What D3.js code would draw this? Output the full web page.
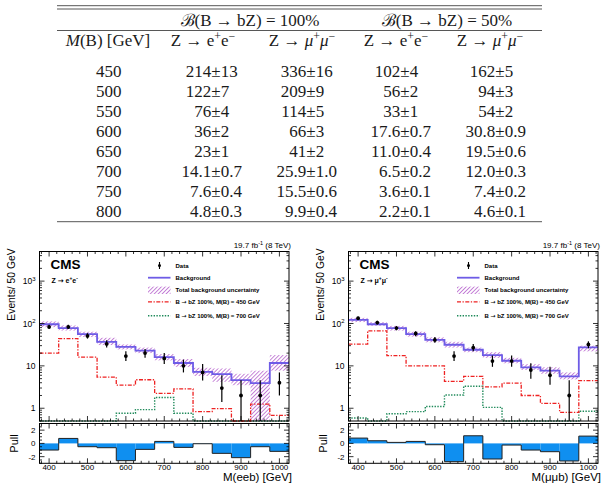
<!DOCTYPE html>
<html><head><meta charset="utf-8">
<script src="https://cdn.jsdelivr.net/npm/d3@7"></script>
<style>body{margin:0;background:#fff}svg{display:block}</style>
</head><body>
<svg id="c" width="609" height="485"></svg>
<script>
// ---------------- Table data ----------------
const tableMass = ["450","500","550","600","650","700","750","800"];
const ee100Val = ["214","122","76","36","23","14.1","7.6","4.8"];
const ee100Err = ["13","7","4","2","1","0.7","0.4","0.3"];
const mm100Val = ["336","209","114","66","41","25.9","15.5","9.9"];
const mm100Err = ["16","9","5","3","2","1.0","0.6","0.4"];
const ee50Val  = ["102","56","33","17.6","11.0","6.5","3.6","2.2"];
const ee50Err  = ["4","2","1","0.7","0.4","0.2","0.1","0.1"];
const mm50Val  = ["162","94","54","30.8","19.5","12.0","7.4","4.6"];
const mm50Err  = ["5","3","2","0.9","0.6","0.3","0.2","0.1"];

// ---------------- Histogram data ----------------
const binCenters = [400,450,500,550,600,650,700,750,800,850,900,950,1000];
const xTicks = [400,500,600,700,800,900,1000];
const yTicks = [1,10,100,1000];
const pullTicks = [-2,0,2];

const eeBkg    = [96, 78, 56, 37, 28, 23, 16, 11.7, 7.2, 6.4, 4.6, 3.9, 11.7];
const eeBkgLo  = [82, 68, 48, 31, 24.5, 20, 13.5, 9.5, 5.8, 4.2, 3.5, 0.3, 7.7];
const eeBkgHi  = [112, 90, 64, 46, 32, 27, 19, 14.5, 9, 8.7, 6.5, 7.7, 18];
const eeData   = [83, 83, 51, 33, 17, 20, 15, 10, 7, 3, 2, 2, 4];
const eeDataLo = [74, 74, 44, 27, 13, 15.5, 11, 7, 4.5, 1.4, 0.4, 0.4, 2];
const eeDataHi = [93, 93, 59, 40, 22, 25, 20, 14, 11, 6, 4.6, 4.6, 7];
const eeSig450 = [20, 44, 16, 5.4, 3.5, 4.7, 2.25, 2.85, 0.83, 0.98, 0.4, 1.25, 0.68];
const eeSig700 = [0.4, 0.4, 0.4, 0.4, 0.76, 0.93, 1.8, 0.76, 0.4, 0.4, 0.4, 0.4, 0.4];
const eePull   = [-1.0, 0.75, -0.5, -0.65, -2.6, -0.9, 0.3, -0.6, -0.05, -1.5, -2.15, -0.5, -1.2];

const mmBkg    = [122, 96, 78, 56, 41, 31.5, 24, 18, 13.2, 9.2, 7.7, 5.65, 27.3];
const mmBkgLo  = [108, 88, 68, 49, 36, 27, 21, 15.5, 11.5, 8, 6.5, 4.8, 22];
const mmBkgHi  = [136, 108, 88, 64, 47, 37, 27, 21, 15.5, 11, 9.3, 7, 30];
const mmData   = [133, 105, 78, 58, 41, 17, 27, 13, 13, 8, 6, 2, 32];
const mmDataLo = [122, 95, 69, 50, 35, 13, 22, 9.5, 9.5, 5, 3.6, 0.4, 26];
const mmDataHi = [145, 116, 87, 66, 48, 22, 33, 17.5, 17.5, 11.5, 9.5, 4.6, 38];
const mmSig450 = [32.6, 67, 17.4, 10, 10, 4.3, 5.65, 3.2, 3.9, 2, 1.3, 0.8, 4.5];
const mmSig700 = [0.59, 0.45, 0.74, 0.83, 1.1, 2.05, 3.3, 1.05, 0.4, 0.4, 0.4, 0.4, 0.85];
const mmPull   = [0.8, 0.4, 0.15, 0.3, -0.2, -2.75, 1.15, -2.35, -0.25, -1.0, -1.25, -2.65, 1.1];

const legendLabels = ["Data","Background","Total background uncertainty",
  "B \u2192 bZ 100%, M(B) = 450 GeV","B \u2192 bZ 100%, M(B) = 700 GeV"];

const svg = d3.select("#c");
const SANS = "'Liberation Sans', Arial, sans-serif";
const SERIF = "'Liberation Serif', 'Times New Roman', serif";

// rich text helper: segs = [[text, {sup, italic, font}], ...]
function rich(sel, x, y, segs, fs, attrs) {
  const t = sel.append("text").attr("x", x).attr("y", y).attr("font-size", fs);
  for (const k in attrs) t.attr(k, attrs[k]);
  let shifted = 0;
  segs.forEach(([txt, o]) => {
    o = o || {};
    const sp = t.append("tspan").text(txt);
    let want = o.sup ? -0.38 * fs : 0;
    if (want !== shifted) { sp.attr("dy", want - shifted); shifted = want; }
    if (o.sup) sp.attr("font-size", fs * 0.7);
    if (o.italic) sp.attr("font-style", "italic");
    if (o.font) sp.attr("font-family", o.font);
  });
  return t;
}

// ---------------- Table ----------------
const tg = svg.append("g").attr("font-family", SERIF).attr("fill", "#1a1a1a");
const TL = 57, TR = 542;
[[5.7, TL, TR],[9, TL, TR],[30.5, TL, TR],[221.7, TL, TR]].forEach(([y,a,b]) =>
  tg.append("line").attr("x1", a).attr("x2", b).attr("y1", y).attr("y2", y)
    .attr("stroke", "#444").attr("stroke-width", 0.9));
const FS = 17;
const calB = ["\u212C", {font: "'DejaVu Serif', serif", italic: false}];
rich(tg, 250, 26, [calB, ["(B \u2192 bZ) = 100%"]], FS, {"text-anchor":"middle"});
rich(tg, 447, 26, [calB, ["(B \u2192 bZ) = 50%"]], FS, {"text-anchor":"middle"});
rich(tg, 108, 46, [["M",{italic:true}],["(B) [GeV]"]], FS, {"text-anchor":"middle"});
const hdrX = [203, 302, 396, 490];
const eeHdr = [["Z \u2192 e"],["+",{sup:true}],["e"],["\u2212",{sup:true}]];
const mmHdr = [["Z \u2192 "],["\u03BC",{italic:true}],["+",{sup:true}],["\u03BC",{italic:true}],["\u2212",{sup:true}]];
[eeHdr, mmHdr, eeHdr, mmHdr].forEach((h, i) => rich(tg, hdrX[i], 46, h, FS, {"text-anchor":"middle"}));
const pmX = [216, 311, 405, 500];
const cols = [[ee100Val, ee100Err],[mm100Val, mm100Err],[ee50Val, ee50Err],[mm50Val, mm50Err]];
tableMass.forEach((m, r) => {
  const y = 77 + 20 * r;
  tg.append("text").attr("x", 108.7).attr("y", y).attr("font-size", FS)
    .attr("text-anchor", "middle").text(m);
  cols.forEach(([vals, errs], c) => {
    const px = pmX[c];
    tg.append("text").attr("x", px - 4.8).attr("y", y).attr("font-size", FS)
      .attr("text-anchor", "end").text(vals[r]);
    tg.append("text").attr("x", px).attr("y", y).attr("font-size", FS)
      .attr("text-anchor", "middle").text("\u00B1");
    tg.append("text").attr("x", px + 4.8).attr("y", y).attr("font-size", FS)
      .attr("text-anchor", "start").text(errs[r]);
  });
});

// ---------------- Hatch pattern ----------------
const defs = svg.append("defs");
const pat = defs.append("pattern").attr("id", "hatch").attr("patternUnits", "userSpaceOnUse")
  .attr("width", 2.8).attr("height", 2.8).attr("patternTransform", "rotate(45)");
pat.append("line").attr("x1", 0).attr("y1", 0).attr("x2", 0).attr("y2", 2.8)
  .attr("stroke", "#a844c4").attr("stroke-width", 1.3);

// ---------------- Panel ----------------
function panel(off, cfg) {
  const X0 = 39.5 + off, X1 = 289 + off;
  const MT = 251.5, MB = 421, PT = 423.5, PB = 463.3;
  const x = d3.scaleLinear().domain([375, 1025]).range([X0, X1]);
  const y = d3.scaleLog().domain([0.5, 5000]).range([MB, MT]).clamp(true);
  const yp = d3.scaleLinear().domain([-3, 3]).range([PB, PT]).clamp(true);
  const g = svg.append("g").attr("font-family", SANS);
  const half = 25;
  const stepPts = vals => {
    const p = [];
    vals.forEach((v, i) => { p.push([binCenters[i] - half, v]); p.push([binCenters[i] + half, v]); });
    return p;
  };
  const line = d3.line().x(d => x(d[0])).y(d => y(d[1]));

  // uncertainty band
  g.selectAll(".band").data(binCenters).join("rect")
    .attr("x", d => x(d - half)).attr("width", d => x(d + half) - x(d - half))
    .attr("y", (d, i) => y(cfg.bkgHi[i]))
    .attr("height", (d, i) => y(cfg.bkgLo[i]) - y(cfg.bkgHi[i]))
    .attr("fill", "url(#hatch)");
  // signals
  g.append("path").attr("d", line(stepPts(cfg.sig700))).attr("fill", "none")
    .attr("stroke", "#1f8a5a").attr("stroke-width", 1.4).attr("stroke-dasharray", "1.4,1.4");
  g.append("path").attr("d", line(stepPts(cfg.sig450))).attr("fill", "none")
    .attr("stroke", "#ee2222").attr("stroke-width", 1.3).attr("stroke-dasharray", "4,1.5,1.3,1.5");
  // background
  g.append("path").attr("d", line(stepPts(cfg.bkg))).attr("fill", "none")
    .attr("stroke", "#6e5ce6").attr("stroke-width", 1.8);
  // data
  g.selectAll(".eb").data(binCenters).join("line")
    .attr("x1", d => x(d)).attr("x2", d => x(d))
    .attr("y1", (d, i) => y(cfg.dataLo[i])).attr("y2", (d, i) => y(cfg.dataHi[i]))
    .attr("stroke", "#000").attr("stroke-width", 1.2);
  g.selectAll(".pt").data(binCenters).join("circle")
    .attr("cx", d => x(d)).attr("cy", (d, i) => y(cfg.data[i])).attr("r", 1.9).attr("fill", "#000");

  // frames
  g.append("rect").attr("x", X0).attr("y", MT).attr("width", X1 - X0).attr("height", MB - MT)
    .attr("fill", "none").attr("stroke", "#000").attr("stroke-width", 1);

  // ticks main
  const tk = (x1, y1, x2, y2) => g.append("line").attr("x1", x1).attr("y1", y1).attr("x2", x2).attr("y2", y2)
    .attr("stroke", "#000").attr("stroke-width", 0.8);
  for (let v = 380; v <= 1020; v += 20) {
    const L = (v % 100 === 0) ? 5 : 2.5;
    tk(x(v), MB, x(v), MB - L); tk(x(v), MT, x(v), MT + L);
    tk(x(v), PB, x(v), PB - L); tk(x(v), PT, x(v), PT + L);
  }
  for (let e = -1; e <= 3; e++) {
    for (let m = 1; m <= 9; m++) {
      const v = m * Math.pow(10, e);
      if (v < 0.5 || v > 5000) continue;
      const L = m === 1 ? 5 : 2.5;
      tk(X0, y(v), X0 + L, y(v)); tk(X1, y(v), X1 - L, y(v));
    }
  }
  yTicks.forEach(v => {
    const segs = v === 1 ? [["1"]] : v === 10 ? [["10"]] : [["10"], [String(Math.round(Math.log10(v))), {sup:true}]];
    rich(g, X0 - 4, y(v) + 3.2, segs, 8.5, {"text-anchor":"end"});
  });

  // pull panel
  g.selectAll(".pb").data(binCenters).join("rect")
    .attr("x", d => x(d - half)).attr("width", d => x(d + half) - x(d - half))
    .attr("y", (d, i) => Math.min(yp(0), yp(cfg.pull[i])))
    .attr("height", (d, i) => Math.abs(yp(cfg.pull[i]) - yp(0)))
    .attr("fill", "#0f8ff0");
  const pline = d3.line().x(d => x(d[0])).y(d => yp(d[1]));
  const pp = [];
  cfg.pull.forEach((v, i) => { pp.push([binCenters[i] - half, v]); pp.push([binCenters[i] + half, v]); });
  g.append("path").attr("d", pline(pp)).attr("fill", "none").attr("stroke", "#222").attr("stroke-width", 1);
  g.append("rect").attr("x", X0).attr("y", PT).attr("width", X1 - X0).attr("height", PB - PT)
    .attr("fill", "none").attr("stroke", "#000").attr("stroke-width", 1);
  for (let v = -3; v <= 3; v += 0.5) {
    const L = (pullTicks.includes(v)) ? 5 : 2.5;
    tk(X0, yp(v), X0 + L, yp(v)); tk(X1, yp(v), X1 - L, yp(v));
  }
  pullTicks.forEach(v => g.append("text").attr("x", X0 - 4).attr("y", yp(v) + 3).attr("font-size", 8)
    .attr("text-anchor", "end").text(String(v)));
  xTicks.forEach(v => g.append("text").attr("x", x(v)).attr("y", 470).attr("font-size", 8)
    .attr("text-anchor", "middle").text(String(v)));

  // titles
  rich(g, X1 + 3, 481, cfg.xTitle, 11.5, {"text-anchor":"end"});
  g.append("text").attr("transform", `translate(${15 + off},${MT - 3}) rotate(-90)`)
    .attr("font-size", 10.3).attr("text-anchor", "end").text("Events/ 50 GeV");
  g.append("text").attr("transform", `translate(${17.5 + off},${443.5}) rotate(-90)`)
    .attr("font-size", 11).attr("text-anchor", "middle").text("Pull");
  rich(g, X1 + 2, 248, [["19.7 fb"], ["-1", {sup:true}], [" (8 TeV)"]], 8, {"text-anchor":"end"});
  g.append("text").attr("x", 50.5 + off).attr("y", 269).attr("font-size", 13.5)
    .attr("font-weight", "bold").text("CMS");
  rich(g, 51.5 + off, 283, cfg.chan, 7, {"font-weight":"bold"});

  // legend
  const lx0 = 148 + off, lx1 = 170.5 + off, tx = 175.5 + off;
  const ly = [265.5, 277.7, 290.3, 301.8, 315.8];
  g.append("line").attr("x1", 159.5 + off).attr("x2", 159.5 + off).attr("y1", ly[0] - 3.5).attr("y2", ly[0] + 3.5)
    .attr("stroke", "#000").attr("stroke-width", 1.1);
  g.append("circle").attr("cx", 159.5 + off).attr("cy", ly[0]).attr("r", 1.5).attr("fill", "#000");
  g.append("line").attr("x1", lx0).attr("x2", lx1).attr("y1", ly[1]).attr("y2", ly[1])
    .attr("stroke", "#6e5ce6").attr("stroke-width", 1.8);
  g.append("rect").attr("x", lx0).attr("y", ly[2] - 3.7).attr("width", lx1 - lx0).attr("height", 7.4)
    .attr("fill", "url(#hatch)");
  g.append("line").attr("x1", lx0).attr("x2", lx1).attr("y1", ly[3]).attr("y2", ly[3])
    .attr("stroke", "#ee2222").attr("stroke-width", 1.3).attr("stroke-dasharray", "4,1.5,1.3,1.5");
  g.append("line").attr("x1", lx0).attr("x2", lx1).attr("y1", ly[4]).attr("y2", ly[4])
    .attr("stroke", "#1f8a5a").attr("stroke-width", 1.4).attr("stroke-dasharray", "1.4,1.4");
  legendLabels.forEach((t, i) => {
    const txt = g.append("text").attr("x", tx).attr("y", ly[i] + 2.1)
      .attr("font-size", 6).attr("font-weight", "bold");
    if (t.includes("\u2192")) {
      const [a, b] = t.split("\u2192");
      txt.append("tspan").text(a);
      txt.append("tspan").attr("font-family", "'DejaVu Sans', sans-serif").attr("font-weight", "normal").text("\u2192");
      txt.append("tspan").text(b);
    } else txt.text(t);
  });
}

panel(0, {
  bkg: eeBkg, bkgLo: eeBkgLo, bkgHi: eeBkgHi, data: eeData, dataLo: eeDataLo, dataHi: eeDataHi,
  sig450: eeSig450, sig700: eeSig700, pull: eePull,
  xTitle: [["M(eeb) [GeV]"]],
  chan: [["Z "], ["\u2192", {font: "'DejaVu Sans', sans-serif"}], [" e"], ["+", {sup:true}], ["e"], ["-", {sup:true}]]
});
panel(309, {
  bkg: mmBkg, bkgLo: mmBkgLo, bkgHi: mmBkgHi, data: mmData, dataLo: mmDataLo, dataHi: mmDataHi,
  sig450: mmSig450, sig700: mmSig700, pull: mmPull,
  xTitle: [["M(\u03BC\u03BCb) [GeV]"]],
  chan: [["Z "], ["\u2192", {font: "'DejaVu Sans', sans-serif"}], [" \u03BC"], ["+", {sup:true}], ["\u03BC"], ["-", {sup:true}]]
});
</script>
</body></html>
